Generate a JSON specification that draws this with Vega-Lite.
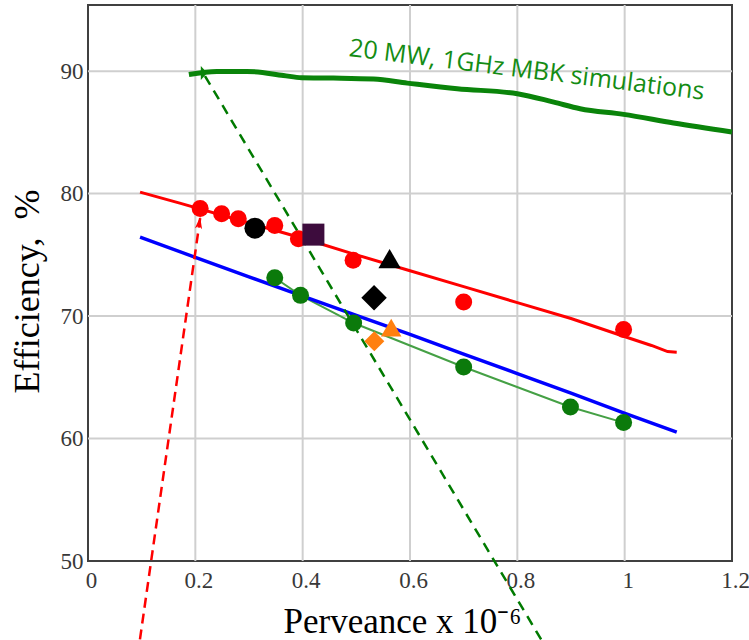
{
  "$schema": "https://vega.github.io/schema/vega-lite/v6.json",
  "autosize": {"type": "none"},
  "padding": {"left": 88, "top": 5, "right": 17, "bottom": 79},
  "width": 644,
  "height": 556,
  "background": "white",
  "config": {
    "view": {"stroke": "#404040", "strokeWidth": 2},
    "axis": {"labelFont": "Liberation Serif", "titleFont": "Liberation Serif"}
  },
  "datasets": {
    "xgrid": [
      {"x": 0.2, "y": 50, "y2": 95.4},
      {"x": 0.4, "y": 50, "y2": 95.4},
      {"x": 0.6, "y": 50, "y2": 95.4},
      {"x": 0.8, "y": 50, "y2": 95.4},
      {"x": 1.0, "y": 50, "y2": 95.4}
    ],
    "ygrid": [
      {"x": 0, "x2": 1.2, "y": 60},
      {"x": 0, "x2": 1.2, "y": 70},
      {"x": 0, "x2": 1.2, "y": 80},
      {"x": 0, "x2": 1.2, "y": 90}
    ],
    "sim": [
      {"x": 0.188, "y": 89.73},
      {"x": 0.24, "y": 89.98},
      {"x": 0.296, "y": 89.98},
      {"x": 0.364, "y": 89.65},
      {"x": 0.398, "y": 89.46},
      {"x": 0.457, "y": 89.43},
      {"x": 0.532, "y": 89.35},
      {"x": 0.595, "y": 89.02},
      {"x": 0.688, "y": 88.56},
      {"x": 0.8, "y": 88.16},
      {"x": 0.868, "y": 87.47},
      {"x": 0.917, "y": 86.93},
      {"x": 0.998, "y": 86.47},
      {"x": 1.091, "y": 85.76},
      {"x": 1.2, "y": 85.02}
    ],
    "redfit": [
      {"x": 0.097, "y": 80.12},
      {"x": 0.171, "y": 79.22},
      {"x": 0.3, "y": 77.6},
      {"x": 0.4, "y": 76.35},
      {"x": 0.5, "y": 75.0},
      {"x": 0.6, "y": 73.7},
      {"x": 0.7, "y": 72.4},
      {"x": 0.8, "y": 71.1},
      {"x": 0.9, "y": 69.8},
      {"x": 0.998, "y": 68.35},
      {"x": 1.05, "y": 67.6},
      {"x": 1.08, "y": 67.1},
      {"x": 1.097, "y": 67.05}
    ],
    "bluefit": [
      {"x": 0.097, "y": 76.45},
      {"x": 0.2, "y": 74.8},
      {"x": 0.3, "y": 73.2},
      {"x": 0.4, "y": 71.63},
      {"x": 0.5, "y": 70.05},
      {"x": 0.6, "y": 68.5},
      {"x": 0.7, "y": 66.9},
      {"x": 0.8, "y": 65.3},
      {"x": 0.9, "y": 63.7},
      {"x": 0.998, "y": 62.1},
      {"x": 1.097, "y": 60.53}
    ],
    "greenexp": [
      {"x": 0.348, "y": 73.13},
      {"x": 0.396, "y": 71.69},
      {"x": 0.495, "y": 69.43},
      {"x": 0.7, "y": 65.84},
      {"x": 0.899, "y": 62.57},
      {"x": 0.998, "y": 61.3}
    ],
    "reddash": [
      {"x": 0.0968, "y": 43.6},
      {"x": 0.209, "y": 78.0}
    ],
    "greendash": [
      {"x": 0.218, "y": 89.6},
      {"x": 0.845, "y": 43.55}
    ],
    "points": [
      {"x": 0.209, "y": 78.78, "kind": "red"},
      {"x": 0.249, "y": 78.36, "kind": "red"},
      {"x": 0.28, "y": 77.95, "kind": "red"},
      {"x": 0.348, "y": 77.4, "kind": "red"},
      {"x": 0.392, "y": 76.32, "kind": "red"},
      {"x": 0.494, "y": 74.55, "kind": "red"},
      {"x": 0.7, "y": 71.14, "kind": "red"},
      {"x": 0.998, "y": 68.9, "kind": "red"},
      {"x": 0.348, "y": 73.13, "kind": "green"},
      {"x": 0.396, "y": 71.69, "kind": "green"},
      {"x": 0.495, "y": 69.43, "kind": "green"},
      {"x": 0.7, "y": 65.84, "kind": "green"},
      {"x": 0.899, "y": 62.57, "kind": "green"},
      {"x": 0.998, "y": 61.3, "kind": "green"},
      {"x": 0.311, "y": 77.18, "kind": "black circle"},
      {"x": 0.42, "y": 76.65, "kind": "square"},
      {"x": 0.562, "y": 74.69, "kind": "black triangle"},
      {"x": 0.533, "y": 71.5, "kind": "black diamond"},
      {"x": 0.5335, "y": 67.95, "kind": "orange diamond"},
      {"x": 0.565, "y": 69.05, "kind": "orange triangle"}
    ],
    "redhead": [{"x": 0.209, "y": 78.1}],
    "greenhead": [{"x": 0.222, "y": 89.85}],
    "label": [{"x": 0.8175, "y": 90.1, "text": "20 MW, 1GHz MBK simulations"}]
  },
  "encoding": {
    "x": {
      "field": "x",
      "type": "quantitative",
      "scale": {"domain": [0, 1.2], "nice": false, "zero": false},
      "axis": {
        "values": [0, 0.2, 0.4, 0.6, 0.8, 1, 1.2],
        "format": "~g",
        "grid": false,
        "domain": false,
        "ticks": false,
        "tickSize": 0,
        "labelFont": "Liberation Serif",
        "labelFontSize": 23,
        "labelColor": "#383838",
        "labelPadding": 8,
        "labelOffset": 3,
        "labelFlush": false,
        "labelOverlap": false,
        "title": "Perveance x 10⁻⁶",
        "titleFont": "Liberation Serif",
        "titleFontSize": 35,
        "titleFontWeight": "normal",
        "titleColor": "#000000",
        "titleX": 314,
        "titleY": 71,
        "titleBaseline": "alphabetic"
      }
    },
    "y": {
      "field": "y",
      "type": "quantitative",
      "scale": {"domain": [50, 95.4], "nice": false, "zero": false},
      "axis": {
        "values": [50, 60, 70, 80, 90],
        "grid": false,
        "domain": false,
        "ticks": false,
        "tickSize": 0,
        "labelFont": "Liberation Serif",
        "labelFontSize": 23,
        "labelColor": "#383838",
        "labelPadding": 5,
        "labelFlush": false,
        "labelOverlap": false,
        "title": "Efficiency,\u00a0 %",
        "titleFont": "Liberation Serif",
        "titleFontSize": 36,
        "titleFontWeight": "normal",
        "titleColor": "#000000",
        "titleAngle": -90,
        "titleX": -50,
        "titleY": 286,
        "titleAlign": "center",
        "titleBaseline": "alphabetic"
      }
    }
  },
  "layer": [
    {
      "data": {"name": "xgrid"},
      "mark": {"type": "rule", "color": "#cfcfcf", "strokeWidth": 2},
      "encoding": {"y2": {"field": "y2"}}
    },
    {
      "data": {"name": "ygrid"},
      "mark": {"type": "rule", "color": "#cfcfcf", "strokeWidth": 2},
      "encoding": {"x2": {"field": "x2"}}
    },
    {
      "data": {"name": "greenexp"},
      "mark": {"type": "line", "color": "#45a045", "strokeWidth": 2}
    },
    {
      "data": {"name": "bluefit"},
      "mark": {"type": "line", "color": "#0000ff", "strokeWidth": 3.5}
    },
    {
      "data": {"name": "redfit"},
      "mark": {"type": "line", "color": "#ff0000", "strokeWidth": 3}
    },
    {
      "data": {"name": "sim"},
      "mark": {"type": "line", "color": "#0a840a", "strokeWidth": 5, "interpolate": "monotone"}
    },
    {
      "data": {"name": "reddash"},
      "mark": {"type": "line", "color": "#ff0000", "strokeWidth": 2.5, "strokeDash": [10, 6]}
    },
    {
      "data": {"name": "greendash"},
      "mark": {"type": "line", "color": "#007a00", "strokeWidth": 2.5, "strokeDash": [10, 7]}
    },
    {
      "data": {"name": "points"},
      "mark": {"type": "point", "filled": true, "opacity": 1},
      "encoding": {
        "shape": {
          "field": "kind",
          "type": "nominal",
          "legend": null,
          "scale": {
            "type": "ordinal",
            "domain": ["red", "green", "black circle", "square", "black triangle", "black diamond", "orange diamond", "orange triangle"],
            "range": ["circle", "circle", "circle", "square", "triangle-up", "diamond", "diamond", "triangle-up"]
          }
        },
        "color": {
          "field": "kind",
          "type": "nominal",
          "legend": null,
          "scale": {
            "type": "ordinal",
            "domain": ["red", "green", "black circle", "square", "black triangle", "black diamond", "orange diamond", "orange triangle"],
            "range": ["#ff0000", "#0b7a0b", "#000000", "#3d0c3d", "#000000", "#000000", "#ff8010", "#ff8010"]
          }
        },
        "size": {
          "field": "kind",
          "type": "nominal",
          "legend": null,
          "scale": {
            "type": "ordinal",
            "domain": ["red", "green", "black circle", "square", "black triangle", "black diamond", "orange diamond", "orange triangle"],
            "range": [289, 289, 441, 484, 500, 650, 400, 420]
          }
        }
      }
    },
    {
      "data": {"name": "redhead"},
      "mark": {"type": "point", "shape": "M0,0L0.6,2L0,1.5L-0.6,2Z", "size": 144, "filled": true, "color": "#ff0000", "opacity": 1, "angle": 8}
    },
    {
      "data": {"name": "greenhead"},
      "mark": {"type": "point", "shape": "M0,0L-0.9,-1L-0.9,1Z", "size": 196, "filled": true, "color": "#0a840a", "opacity": 1}
    },
    {
      "data": {"name": "label"},
      "mark": {"type": "text", "font": "Open Sans", "fontSize": 25, "color": "#148c14", "angle": 7, "align": "center", "baseline": "middle"},
      "encoding": {"text": {"field": "text"}}
    }
  ]
}
